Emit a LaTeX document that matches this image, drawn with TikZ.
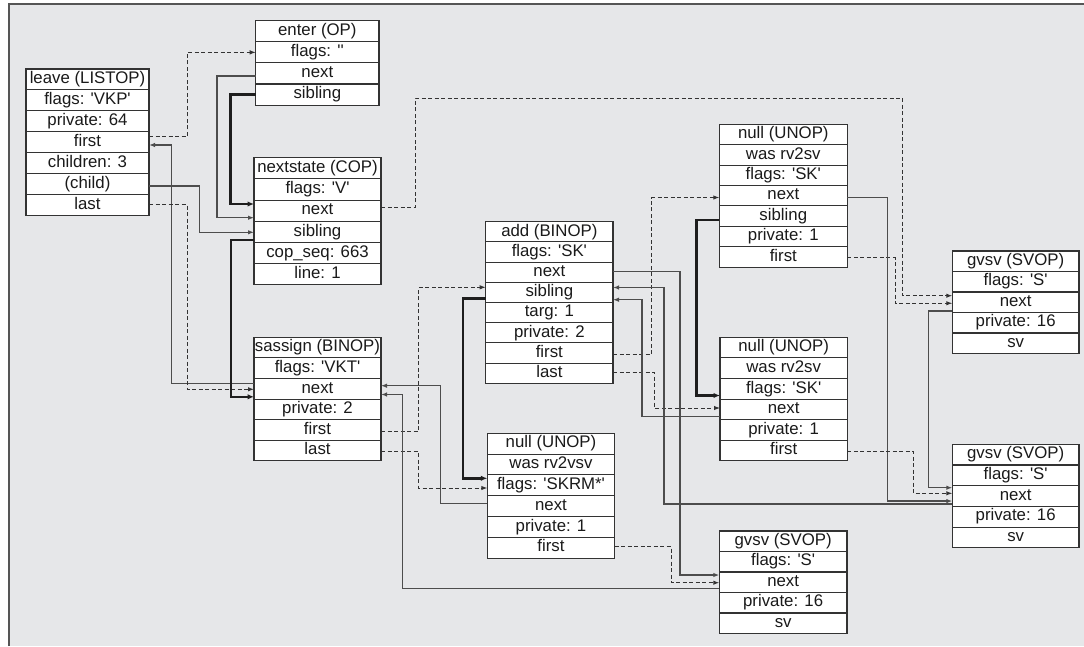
\documentclass[tikz,border=0pt]{standalone}
\usepackage{fontspec}
\setmainfont{Liberation Sans}[Ligatures=TeXOff]
\usetikzlibrary{arrows.meta,calc}
\definecolor{bg}{HTML}{E6E7E9}
\definecolor{boxline}{HTML}{333333}
\definecolor{thinc}{HTML}{4D4D4D}
\definecolor{dashc}{HTML}{333333}
\definecolor{thickc}{HTML}{1E1E1E}
\definecolor{txt}{HTML}{1A1A1A}
\definecolor{framec}{HTML}{555555}
\tikzset{
  rowbox/.style={draw=boxline, line width=1.1pt, fill=white, inner sep=0pt, outer sep=0pt,
    text=txt, font=\fontsize{16.8}{19}\selectfont, text height=12pt, text depth=3.6pt},
  ln/.style={draw=thinc, line width=1.2pt, -{Latex[length=6pt,width=4.5pt]}},
  dl/.style={draw=dashc, line width=1pt, dash pattern=on 4pt off 2.5pt, -{Latex[length=6pt,width=4.5pt]}},
  tk/.style={draw=thickc, line width=2.6pt, -{Latex[length=6.5pt,width=5.5pt]}}
}
\newcommand\opbox[6]{%
  \foreach \t [count=\i from 0] in {#6}{
    \node[rowbox, minimum width=#4pt, minimum height=#5pt, anchor=north west] (#1-\i) at (#2,{#3+\i*#5}) {\t};
  }
}
\begin{document}
\begin{tikzpicture}[x=1pt,y=-1pt]
\useasboundingbox (0,0) rectangle (1084,646);
\fill[white] (0,0) rectangle (1084,646);
\fill[bg] (9,4) rectangle (1084,646);
\draw[framec, line width=1.3pt] (9,646) -- (9,4) -- (1084,4);

\opbox{leave}{26}{69}{123}{20.9}{leave (LISTOP), flags: 'VKP', private: 64, first, children: 3, (child), last}
\opbox{enter}{255.7}{20.7}{123.3}{21.1}{enter (OP), flags: '', next, sibling}
\opbox{nextstate}{254}{157.7}{127}{21.2}{nextstate (COP), flags: 'V', next, sibling, cop\_seq: 663, line: 1}
\opbox{sassign}{254}{337.3}{127}{20.6}{sassign (BINOP), flags: 'VKT', next, private: 2, first, last}
\opbox{add}{485.7}{221.7}{127.3}{20.2}{add (BINOP), flags: 'SK', next, sibling, targ: 1, private: 2, first, last}
\opbox{nulltop}{719.3}{124.3}{128}{20.4}{null (UNOP), was rv2sv, flags: 'SK', next, sibling, private: 1, first}
\opbox{nullmid}{720}{337.3}{127.3}{20.6}{null (UNOP), was rv2sv, flags: 'SK', next, private: 1, first}
\opbox{nullbot}{487.3}{433.3}{127.4}{20.8}{null (UNOP), was rv2vsv, flags: 'SKRM*', next, private: 1, first}
\opbox{gvsvtr}{952.3}{251}{126.7}{20.5}{gvsv (SVOP), flags: 'S', next, private: 16, sv}
\opbox{gvsvbr}{952.3}{444.3}{126.7}{20.7}{gvsv (SVOP), flags: 'S', next, private: 16, sv}
\opbox{gvsvb}{719.3}{531}{127.7}{20.5}{gvsv (SVOP), flags: 'S', next, private: 16, sv}

\draw[dl] ($(leave-3.east)+(0,-5.5)$) -- ++(38.3,0) |- (enter-1.west);
\draw[ln] ($(sassign-2.west)+(0,-5.5)$) -- ++(-82.3,0) |- ($(leave-3.east)+(0,2.85)$);
\draw[dl] (leave-6.east) -- ++(38.3,0) |- ($(sassign-2.west)+(0,0.5)$);
\draw[ln] ($(enter-2.west)+(0,2.5)$) -- ++(-38.7,0) |- ($(nextstate-2.west)+(0,7)$);
\draw[tk] (enter-3.west) -- ++(-25,0) |- ($(nextstate-2.west)+(0,-6.7)$);
\draw[ln] ($(leave-5.east)+(0,2)$) -- ++(50.5,0) |- ($(nextstate-3.west)+(0,0.4)$);
\draw[tk] ($(nextstate-3.west)+(0,8.1)$) -- ++(-23,0) |- ($(sassign-2.west)+(0,8)$);
\draw[dl] ($(nextstate-2.east)+(0,-3.7)$) -- ++(34,0) -- ++(0,-109) -| ($(gvsvtr-2.west)+(-50,-6.55)$) -- ($(gvsvtr-2.west)+(0,-6.55)$);
\draw[dl] ($(nulltop-6.east)+(0,0.8)$) -- ++(47.7,0) |- ($(gvsvtr-2.west)+(0,1)$);
\draw[dl] ($(add-6.east)+(0,1.3)$) -- ++(38.7,0) |- ($(nulltop-3.west)+(0,1.8)$);
\draw[dl] ($(add-7.east)+(0,-0.9)$) -- ++(41.3,0) |- ($(nullmid-3.west)+(0,-1.4)$);
\draw[ln] ($(add-2.east)+(0,-0.5)$) -- ++(67,0) |- ($(gvsvb-2.west)+(0,-7.25)$);
\draw[dl] ($(nullbot-5.east)+(0,-1.2)$) -- ++(56.3,0) |- ($(gvsvb-2.west)+(0,0.45)$);
\draw[ln] ($(gvsvbr-2.west)+(0,8)$) -- ++(-288.3,0) |- ($(add-3.east)+(0,-4.9)$);
\draw[ln] ($(nullmid-3.west)+(0,7.3)$) -- ++(-78,0) |- ($(add-3.east)+(0,7.3)$);
\draw[ln] ($(nulltop-3.east)+(0,1.6)$) -- ++(40,0) |- ($(gvsvbr-2.west)+(0,5)$);
\draw[ln] ($(gvsvtr-2.west)+(0,8.75)$) -- ++(-24,0) |- ($(gvsvbr-2.west)+(0,-8.35)$);
\draw[dl] ($(nullmid-5.east)+(0,0.4)$) -- ++(66,0) |- ($(gvsvbr-2.west)+(0,-2.75)$);
\draw[tk] ($(nulltop-4.west)+(0,3.9)$) -- ++(-22.6,0) |- ($(nullmid-2.west)+(0,6.7)$);
\draw[tk] ($(add-3.west)+(0,5.9)$) -- ++(-22.7,0) |- ($(nullbot-2.west)+(0,-7)$);
\draw[dl] ($(sassign-5.east)+(0,1.1)$) -- ++(37.5,0) |- ($(nullbot-2.west)+(0,2.7)$);
\draw[dl] ($(sassign-4.east)+(0,1.5)$) -- ++(37.5,0) |- ($(add-3.west)+(0,-5.1)$);
\draw[ln] ($(nullbot-3.west)+(0,-2.8)$) -- ++(-46.8,0) |- ($(sassign-2.east)+(0,-3.1)$);
\draw[ln] ($(gvsvb-2.west)+(0,6)$) -- ++(-317,0) |- ($(sassign-2.east)+(0,5.7)$);
\end{tikzpicture}
\end{document}
